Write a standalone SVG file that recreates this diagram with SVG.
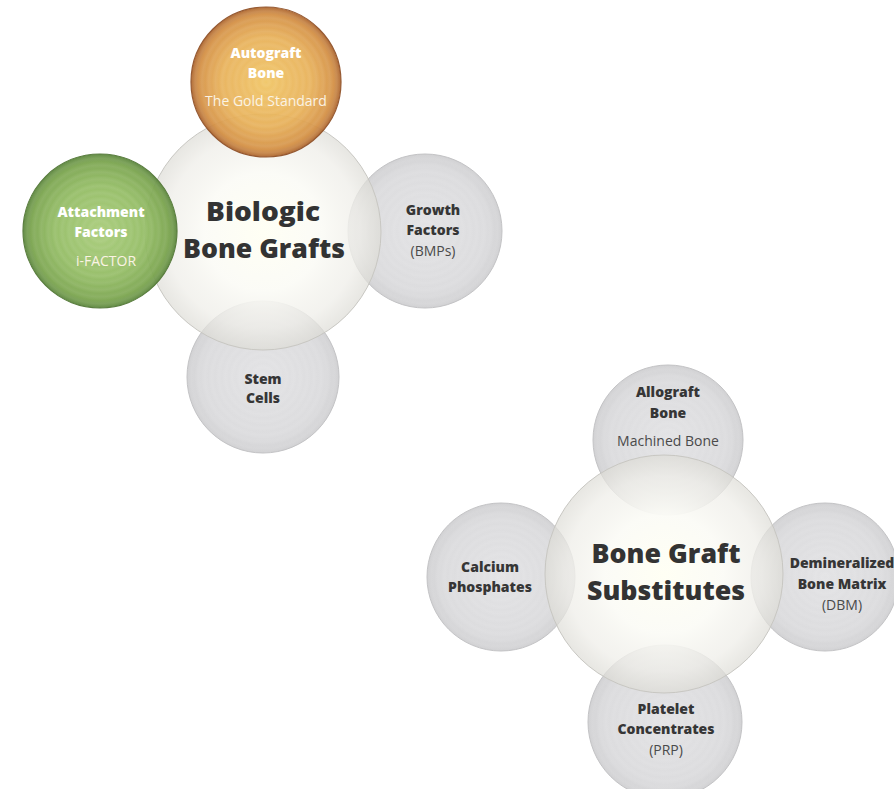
<svg xmlns="http://www.w3.org/2000/svg" width="894" height="789" viewBox="0 0 894 789">
<defs>
<radialGradient id="gCenter" cx="0.5" cy="0.5" r="0.5">
<stop offset="0" stop-color="#fffff4" stop-opacity="1"/>
<stop offset="0.5" stop-color="#fbfbf6" stop-opacity="0.95"/>
<stop offset="0.82" stop-color="#efeee9" stop-opacity="0.75"/>
<stop offset="1" stop-color="#dddcd6" stop-opacity="0.7"/>
</radialGradient>
<radialGradient id="gGrey" cx="0.5" cy="0.5" r="0.5">
<stop offset="0" stop-color="#e3e3e5"/>
<stop offset="0.8" stop-color="#dcdcde"/>
<stop offset="1" stop-color="#d2d2d4"/>
</radialGradient>
<radialGradient id="gOrange" cx="0.5" cy="0.5" r="0.5">
<stop offset="0" stop-color="#f0c462"/>
<stop offset="0.6" stop-color="#e8b057"/>
<stop offset="0.9" stop-color="#d48f42"/>
<stop offset="1" stop-color="#ad652e"/>
</radialGradient>
<radialGradient id="gGreen" cx="0.5" cy="0.5" r="0.5">
<stop offset="0" stop-color="#a6cb76"/>
<stop offset="0.6" stop-color="#91bb61"/>
<stop offset="0.9" stop-color="#78a34b"/>
<stop offset="1" stop-color="#5b863c"/>
</radialGradient>
<radialGradient id="gRings" cx="0.5" cy="0.5" r="0.045" spreadMethod="repeat">
<stop offset="0" stop-color="#ffffff" stop-opacity="0"/>
<stop offset="0.5" stop-color="#ffffff" stop-opacity="0.07"/>
<stop offset="1" stop-color="#ffffff" stop-opacity="0"/>
</radialGradient>
</defs>
<style>
.center{fill:url(#gCenter);stroke:#c8c7c2;stroke-width:1}
.grey{fill:url(#gGrey);stroke:#c3c3c5;stroke-width:1}
.orange{fill:url(#gOrange);stroke:#8e4d22;stroke-width:1.2}
.green{fill:url(#gGreen);stroke:#4d7330;stroke-width:1.2}
.top{opacity:0.93}
.rings{fill:url(#gRings)}
.title{font-family:"Open Sans","Noto Sans","DejaVu Sans",sans-serif;font-weight:800;font-size:27px;fill:#333333;text-anchor:middle}
.lb{font-family:"Open Sans","Noto Sans","DejaVu Sans",sans-serif;font-weight:800;font-size:14px;fill:#363636;text-anchor:middle}
.lr{font-family:"Open Sans","Noto Sans","DejaVu Sans",sans-serif;font-size:14px;fill:#4a4a4a;text-anchor:middle}
.w{fill:#ffffff}
.wr{fill:#fbf3e4}
</style>
<rect width="894" height="789" fill="#ffffff"/>
<g id="connectors"/>

<g id="growth-factors">
<circle class="grey" cx="425" cy="231" r="77"/>
<circle class="rings" cx="425" cy="231" r="77"/>
</g>
<g id="stem-cells">
<circle class="grey" cx="263" cy="377" r="76"/>
<circle class="rings" cx="263" cy="377" r="76"/>
</g>
<g id="biologic-bone-grafts">
<circle class="center" cx="263" cy="232" r="118"/>
</g>
<g id="autograft-bone" class="top">
<circle class="orange" cx="266" cy="82" r="75"/>
<circle class="rings" cx="266" cy="82" r="75"/>
</g>
<g id="attachment-factors" class="top">
<circle class="green" cx="100" cy="231" r="77"/>
<circle class="rings" cx="100" cy="231" r="77"/>
</g>

<g id="allograft-bone">
<circle class="grey" cx="668" cy="440" r="75"/>
<circle class="rings" cx="668" cy="440" r="75"/>
</g>
<g id="calcium-phosphates">
<circle class="grey" cx="501" cy="577" r="74"/>
<circle class="rings" cx="501" cy="577" r="74"/>
</g>
<g id="demineralized-bone-matrix">
<circle class="grey" cx="825" cy="577" r="74"/>
<circle class="rings" cx="825" cy="577" r="74"/>
</g>
<g id="platelet-concentrates">
<circle class="grey" cx="665" cy="722" r="77"/>
<circle class="rings" cx="665" cy="722" r="77"/>
</g>
<g id="bone-graft-substitutes">
<circle class="center" cx="664" cy="574" r="119"/>
</g>

<g id="labels">
<text class="title" x="263" y="221" textLength="114" lengthAdjust="spacingAndGlyphs">Biologic</text>
<text class="title" x="264" y="258" textLength="162" lengthAdjust="spacingAndGlyphs">Bone Grafts</text>
<text class="lb w" x="266" y="58">Autograft</text>
<text class="lb w" x="266" y="78">Bone</text>
<text class="lr wr" x="266" y="106">The Gold Standard</text>
<text class="lb w" x="101" y="217">Attachment</text>
<text class="lb w" x="101" y="237">Factors</text>
<text class="lr wr" x="106" y="266">i-FACTOR</text>
<text class="lb" x="433" y="215">Growth</text>
<text class="lb" x="433" y="235">Factors</text>
<text class="lr" x="433" y="256">(BMPs)</text>
<text class="lb" x="263" y="384">Stem</text>
<text class="lb" x="263" y="403">Cells</text>

<text class="title" x="666" y="563" textLength="149" lengthAdjust="spacingAndGlyphs">Bone Graft</text>
<text class="title" x="666" y="600" textLength="158" lengthAdjust="spacingAndGlyphs">Substitutes</text>
<text class="lb" x="668" y="397">Allograft</text>
<text class="lb" x="668" y="418">Bone</text>
<text class="lr" x="668" y="446">Machined Bone</text>
<text class="lb" x="490" y="572">Calcium</text>
<text class="lb" x="490" y="592">Phosphates</text>
<text class="lb" x="842" y="568">Demineralized</text>
<text class="lb" x="842" y="589">Bone Matrix</text>
<text class="lr" x="842" y="610">(DBM)</text>
<text class="lb" x="666" y="714">Platelet</text>
<text class="lb" x="666" y="734">Concentrates</text>
<text class="lr" x="666" y="755">(PRP)</text>
</g>
</svg>
